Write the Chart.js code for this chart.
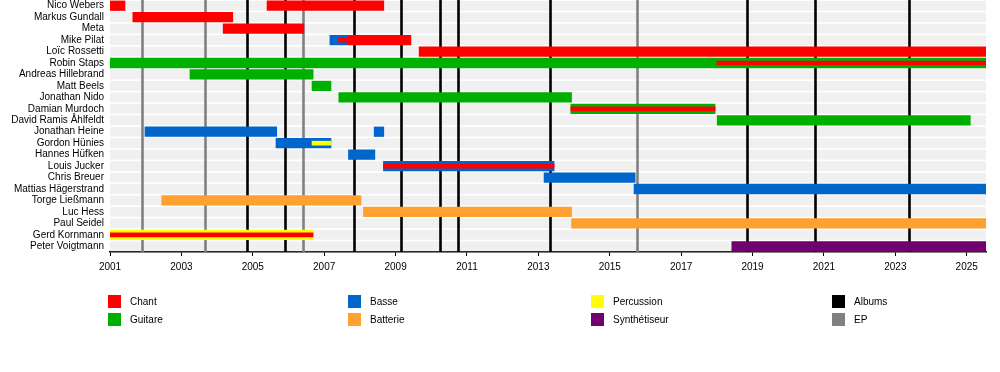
<!DOCTYPE html>
<html lang="fr">
<head>
<meta charset="utf-8">
<title>Chronologie des membres</title>
<script src="https://cdn.jsdelivr.net/npm/chart.js@4/dist/chart.umd.min.js"></script>
<style>
  body { margin: 0; background: #fff; font-family: "Liberation Sans", Arial, sans-serif; }
  #wrap { position: relative; width: 1000px; height: 372px; }
  #legend { position: absolute; left: 0; top: 0; width: 1000px; height: 372px; pointer-events: none; }
  .lg { position: absolute; font-size: 10px; color: #000; line-height: 13px; white-space: nowrap; }
  .lg span { display: inline-block; width: 13px; height: 13px; vertical-align: top; margin-right: 9px; }
</style>
</head>
<body>
<div id="wrap">
  <canvas id="c" width="1000" height="280"></canvas>
  <div id="legend"></div>
</div>
<script>
// Members, top to bottom
const members = [
  'Nico Webers', 'Markus Gundall', 'Meta', 'Mike Pilat', 'Loïc Rossetti',
  'Robin Staps', 'Andreas Hillebrand', 'Matt Beels', 'Jonathan Nido',
  'Damian Murdoch', 'David Ramis Åhlfeldt', 'Jonathan Heine', 'Gordon Hünies',
  'Hannes Hüfken', 'Louis Jucker', 'Chris Breuer', 'Mattias Hägerstrand',
  'Torge Ließmann', 'Luc Hess', 'Paul Seidel', 'Gerd Kornmann', 'Peter Voigtmann'
];

const END = 2025.54;
const yearTicks = [2001, 2002, 2003, 2004, 2005, 2006, 2007, 2008, 2009, 2010, 2011, 2012, 2013,
  2014, 2015, 2016, 2017, 2018, 2019, 2020, 2021, 2022, 2023, 2024, 2025];

// [member, from, to]
const chant = [
  ['Nico Webers', 2001.0, 2001.42],
  ['Nico Webers', 2005.4, 2008.67],
  ['Markus Gundall', 2001.64, 2004.44],
  ['Meta', 2004.17, 2006.43],
  ['Mike Pilat', 2007.67, 2009.43],
  ['Loïc Rossetti', 2009.66, END]
];
const chantSecond = [
  ['Mike Pilat', 2007.4, 2007.67],
  ['Robin Staps', 2018.0, END],
  ['Damian Murdoch', 2013.91, 2017.95],
  ['Louis Jucker', 2008.66, 2013.44],
  ['Gerd Kornmann', 2001.0, 2006.69]
];
const guitare = [
  ['Robin Staps', 2001.0, END],
  ['Andreas Hillebrand', 2003.24, 2006.69],
  ['Matt Beels', 2006.66, 2007.19],
  ['Jonathan Nido', 2007.41, 2013.93],
  ['Damian Murdoch', 2013.91, 2017.95],
  ['David Ramis Åhlfeldt', 2018.01, 2025.1]
];
const basse = [
  ['Mike Pilat', 2007.16, 2007.67],
  ['Jonathan Heine', 2001.98, 2005.67],
  ['Jonathan Heine', 2008.4, 2008.67],
  ['Gordon Hünies', 2005.65, 2007.19],
  ['Hannes Hüfken', 2007.68, 2008.42],
  ['Louis Jucker', 2008.66, 2013.44],
  ['Chris Breuer', 2013.16, 2015.71],
  ['Mattias Hägerstrand', 2015.68, END]
];
const batterie = [
  ['Torge Ließmann', 2002.45, 2008.03],
  ['Luc Hess', 2008.1, 2013.93],
  ['Paul Seidel', 2013.93, END]
];
const percussion = [
  ['Gerd Kornmann', 2001.0, 2006.69]
];
const percussionSecond = [
  ['Gordon Hünies', 2006.66, 2007.19]
];
const synthe = [
  ['Peter Voigtmann', 2018.42, END]
];

// release dates
const albums = [2004.83, 2005.91, 2007.83, 2009.15, 2010.25, 2010.76, 2013.32, 2018.85, 2020.75, 2023.39];
const eps = [2001.9, 2003.67, 2006.4, 2015.77];

const colors = {
  Chant: '#ff0000', Guitare: '#00b000', Basse: '#0066cc', Batterie: '#ffa030',
  Percussion: '#ffff00', 'Synthétiseur': '#700070', Albums: '#000000', EP: '#808080'
};

const toBars = rows => rows.map(r => ({ y: r[0], x: [r[1], r[2]] }));

function mainSet(label, rows) {
  return {
    label, data: toBars(rows), backgroundColor: colors[label],
    barThickness: 9.6, grouped: false, order: 2, borderSkipped: false
  };
}
function thinSet(label, rows) {
  return {
    label, data: toBars(rows), backgroundColor: colors[label],
    barThickness: 4, grouped: false, order: 1, borderSkipped: false
  };
}

// row stripes + release lines, under the bars
const backdrop = {
  id: 'backdrop',
  beforeDatasetsDraw(chart) {
    const { ctx, chartArea: a, scales: { x, y } } = chart;
    ctx.save();
    ctx.fillStyle = '#f0f0f0';
    members.forEach((m, i) => {
      const py = y.getPixelForValue(i);
      ctx.fillRect(a.left, py - 4.9, a.right - a.left, 9.8);
    });
    const line = (v, c) => {
      const px = Math.round(x.getPixelForValue(v)) + 0.5;
      ctx.strokeStyle = c;
      ctx.lineWidth = 2.6;
      ctx.beginPath();
      ctx.moveTo(px, a.top);
      ctx.lineTo(px, a.bottom);
      ctx.stroke();
    };
    eps.forEach(v => line(v, colors.EP));
    albums.forEach(v => line(v, colors.Albums));
    ctx.restore();
  }
};

Chart.defaults.font.family = '"Liberation Sans", Arial, sans-serif';
Chart.defaults.font.size = 10;
Chart.defaults.color = '#000';

new Chart(document.getElementById('c'), {
  type: 'bar',
  data: {
    labels: members,
    datasets: [
      thinSet('Chant', chantSecond),
      thinSet('Percussion', percussionSecond),
      mainSet('Chant', chant),
      mainSet('Guitare', guitare),
      mainSet('Basse', basse),
      mainSet('Batterie', batterie),
      mainSet('Percussion', percussion),
      mainSet('Synthétiseur', synthe)
    ]
  },
  options: {
    indexAxis: 'y',
    responsive: false,
    animation: false,
    layout: { padding: { left: 0, right: 14, top: 0, bottom: 0 } },
    plugins: { legend: { display: false }, tooltip: { enabled: false } },
    scales: {
      x: {
        type: 'linear',
        min: 2001,
        max: END,
        afterBuildTicks: s => { s.ticks = yearTicks.map(v => ({ value: v })); },
        afterFit: s => { s.height = 28; s.paddingLeft = 0; s.paddingRight = 0; },
        ticks: {
          autoSkip: false,
          maxRotation: 0,
          padding: 5,
          callback: v => (v % 2 === 1 ? String(v) : null)
        },
        grid: { drawOnChartArea: false, drawTicks: true, tickLength: 4, color: '#000' },
        border: { display: true, color: '#000', width: 1.5 }
      },
      y: {
        type: 'category',
        afterFit: s => { s.width = 110; s.paddingTop = 0; s.paddingBottom = 0; },
        ticks: { padding: 6, autoSkip: false },
        grid: { display: false, drawTicks: false },
        border: { display: false }
      }
    }
  },
  plugins: [backdrop]
});

// legend, column by column
const legendCols = [['Chant', 'Guitare'], ['Basse', 'Batterie'], ['Percussion', 'Synthétiseur'], ['Albums', 'EP']];
const legendX = [108, 348, 591, 832];
const legendY = [295, 313];
const lg = document.getElementById('legend');
legendCols.forEach((col, ci) => col.forEach((name, ri) => {
  const d = document.createElement('div');
  d.className = 'lg';
  d.style.left = legendX[ci] + 'px';
  d.style.top = legendY[ri] + 'px';
  d.innerHTML = '<span style="background:' + colors[name] + '"></span>' + name;
  lg.appendChild(d);
}));
</script>
</body>
</html>
